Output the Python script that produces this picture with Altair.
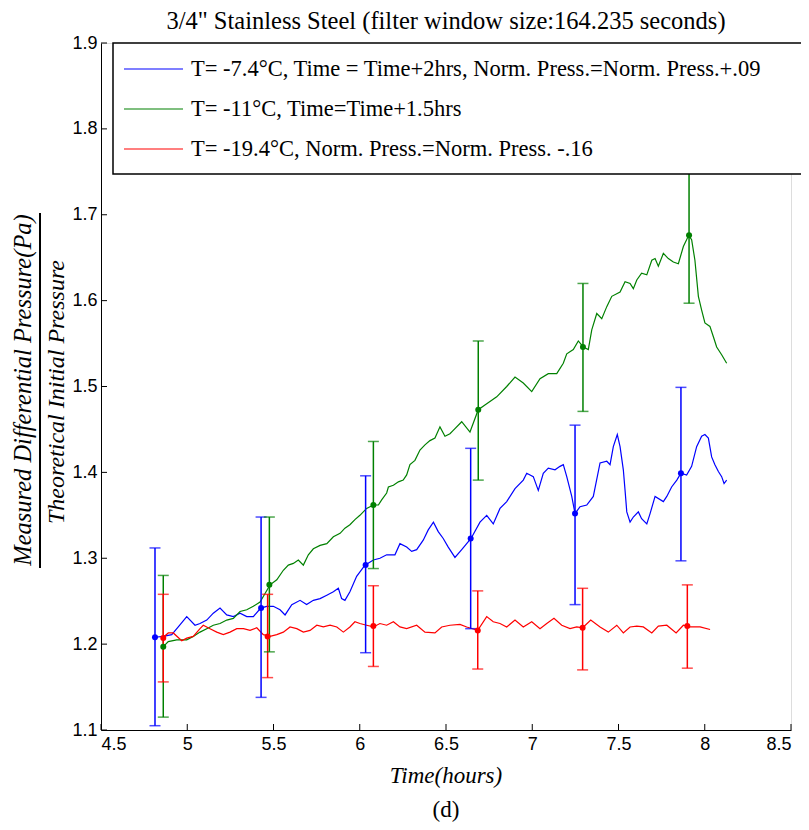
import altair as alt
import pandas as pd

# ---------------- data ----------------
blue_t = [4.813, 4.861, 4.910, 4.948, 4.997, 5.045, 5.074, 5.113, 5.151, 5.190,
          5.229, 5.267, 5.306, 5.345, 5.383, 5.426, 5.461, 5.499, 5.538, 5.567,
          5.606, 5.654, 5.692, 5.731, 5.770, 5.809, 5.847, 5.876, 5.895, 5.914,
          5.943, 5.982, 6.030, 6.079, 6.117, 6.156, 6.204,
          6.233, 6.272, 6.301, 6.330, 6.368, 6.397, 6.427, 6.455, 6.484, 6.513,
          6.552, 6.591, 6.645, 6.697, 6.736, 6.774, 6.813, 6.852, 6.900, 6.948,
          6.968, 7.006, 7.035, 7.064, 7.093, 7.132, 7.161, 7.180, 7.200, 7.229,
          7.248, 7.277, 7.316, 7.354, 7.393, 7.432, 7.451, 7.470, 7.493, 7.509,
          7.528, 7.538, 7.548, 7.567, 7.586, 7.615, 7.634, 7.664, 7.683, 7.712,
          7.760, 7.780, 7.808, 7.838, 7.862, 7.895, 7.924, 7.953, 7.982, 8.001,
          8.021, 8.040, 8.059, 8.079, 8.098, 8.112, 8.127]
blue_v = [1.208, 1.209, 1.211, 1.220, 1.232, 1.222, 1.224, 1.228, 1.236, 1.242,
          1.234, 1.232, 1.236, 1.232, 1.232, 1.242, 1.244, 1.244, 1.240, 1.234,
          1.246, 1.251, 1.246, 1.251, 1.253, 1.257, 1.261, 1.265, 1.253, 1.251,
          1.261, 1.279, 1.292, 1.298, 1.300, 1.304, 1.304,
          1.317, 1.313, 1.308, 1.310, 1.321, 1.333, 1.342, 1.331, 1.323, 1.313,
          1.301, 1.310, 1.323, 1.342, 1.350, 1.340, 1.358, 1.366, 1.381, 1.391,
          1.399, 1.395, 1.379, 1.399, 1.405, 1.403, 1.407, 1.409, 1.395, 1.372,
          1.352, 1.360, 1.362, 1.372, 1.411, 1.413, 1.409, 1.430, 1.444, 1.430,
          1.403, 1.379, 1.354, 1.342, 1.348, 1.354, 1.346, 1.340, 1.352, 1.372,
          1.366, 1.372, 1.383, 1.391, 1.399, 1.397, 1.407, 1.430, 1.442, 1.444,
          1.440, 1.418, 1.409, 1.401, 1.395, 1.387, 1.391]

green_t = [4.861, 4.890, 4.939, 4.997, 5.035, 5.074, 5.113, 5.151, 5.190, 5.229,
           5.267, 5.306, 5.345, 5.383, 5.422, 5.451, 5.480, 5.519, 5.557, 5.586,
           5.615, 5.644, 5.673, 5.702, 5.731, 5.770, 5.809, 5.847, 5.886, 5.914,
           5.943, 5.972, 6.001, 6.040, 6.079,
           6.108, 6.127, 6.156, 6.166, 6.195, 6.224, 6.252, 6.272, 6.291, 6.320,
           6.349, 6.378, 6.407, 6.436, 6.465, 6.494, 6.523,
           6.542, 6.591, 6.639, 6.687, 6.736, 6.794, 6.852, 6.900, 6.948, 6.997,
           7.045, 7.093, 7.142, 7.180,
           7.200, 7.238, 7.267, 7.296, 7.325, 7.345, 7.374, 7.403, 7.432, 7.461,
           7.509, 7.538, 7.567, 7.586, 7.606, 7.634, 7.664, 7.693, 7.712, 7.731,
           7.760, 7.789, 7.818, 7.847, 7.876, 7.907, 7.924, 7.943, 7.963, 7.982,
           8.001, 8.030, 8.050, 8.069, 8.098, 8.127]
green_v = [1.197, 1.203, 1.205, 1.205, 1.209, 1.214, 1.218, 1.222, 1.224, 1.228,
           1.230, 1.238, 1.240, 1.244, 1.249, 1.259, 1.269, 1.275, 1.286, 1.292,
           1.294, 1.298, 1.292, 1.304, 1.311, 1.315, 1.317, 1.325, 1.329, 1.335,
           1.339, 1.345, 1.350, 1.358, 1.362,
           1.362, 1.368, 1.376, 1.383, 1.385, 1.389, 1.391, 1.397, 1.409, 1.414,
           1.426, 1.432, 1.437, 1.440, 1.453, 1.442, 1.445,
           1.449, 1.459, 1.447, 1.473, 1.480, 1.488, 1.500, 1.511, 1.504, 1.494,
           1.509, 1.515, 1.515, 1.527,
           1.538, 1.543, 1.553, 1.546, 1.543, 1.566, 1.585, 1.579, 1.593, 1.605,
           1.610, 1.622, 1.620, 1.614, 1.624, 1.632, 1.630, 1.647, 1.649, 1.640,
           1.655, 1.649, 1.645, 1.643, 1.663, 1.676, 1.671, 1.647, 1.605, 1.589,
           1.574, 1.570, 1.558, 1.546, 1.537, 1.527]

red_t = [4.861, 4.890, 4.919, 4.968, 4.997, 5.035, 5.074, 5.093, 5.132, 5.171,
         5.209, 5.248, 5.287, 5.326, 5.364, 5.403, 5.441, 5.480, 5.519, 5.557,
         5.596, 5.635, 5.673, 5.712, 5.751, 5.789, 5.828, 5.867, 5.905, 5.943,
         5.972, 6.001, 6.040, 6.079, 6.117, 6.156, 6.195,
         6.233, 6.272, 6.330, 6.378, 6.436, 6.475, 6.523, 6.581, 6.620, 6.684,
         6.736, 6.774, 6.813, 6.852, 6.900, 6.948, 6.997, 7.045, 7.084, 7.126,
         7.171, 7.219, 7.258, 7.292, 7.339, 7.393, 7.441, 7.490, 7.528, 7.567,
         7.606, 7.644, 7.693, 7.731, 7.780, 7.834, 7.876, 7.915, 7.973, 8.031]
red_v = [1.208, 1.213, 1.213, 1.204, 1.207, 1.209, 1.218, 1.222, 1.218, 1.214,
         1.211, 1.214, 1.218, 1.218, 1.216, 1.219, 1.211, 1.209, 1.211, 1.214,
         1.220, 1.218, 1.214, 1.216, 1.222, 1.220, 1.222, 1.220, 1.214, 1.220,
         1.226, 1.224, 1.222, 1.220, 1.224, 1.222, 1.226,
         1.220, 1.218, 1.222, 1.214, 1.213, 1.220, 1.222, 1.223, 1.220, 1.216,
         1.232, 1.226, 1.224, 1.220, 1.228, 1.220, 1.226, 1.218, 1.224, 1.230,
         1.222, 1.218, 1.220, 1.219, 1.228, 1.220, 1.214, 1.222, 1.213, 1.220,
         1.221, 1.220, 1.213, 1.221, 1.222, 1.213, 1.222, 1.220, 1.220, 1.217]

# error bars: time, centre, lower, upper
blue_err_t = [4.813, 5.428, 6.034, 6.643, 7.248, 7.862]
blue_err_mid = [1.208, 1.242, 1.292, 1.323, 1.352, 1.399]
blue_err_lo = [1.105, 1.138, 1.190, 1.218, 1.246, 1.297]
blue_err_hi = [1.312, 1.348, 1.396, 1.428, 1.455, 1.499]

green_err_t = [4.861, 5.476, 6.079, 6.687, 7.294, 7.909]
green_err_mid = [1.197, 1.269, 1.362, 1.473, 1.546, 1.676]
green_err_lo = [1.115, 1.191, 1.288, 1.391, 1.471, 1.597]
green_err_hi = [1.280, 1.348, 1.436, 1.553, 1.620, 1.757]

red_err_t = [4.861, 5.466, 6.079, 6.684, 7.292, 7.899]
red_err_mid = [1.207, 1.209, 1.221, 1.216, 1.219, 1.221]
red_err_lo = [1.156, 1.161, 1.174, 1.171, 1.170, 1.172]
red_err_hi = [1.258, 1.258, 1.268, 1.262, 1.265, 1.269]

series_names = ["blue", "green", "red"]
series_colors = ["#0000ff", "#008000", "#ff0000"]
legend_labels = [
    "T= -7.4°C, Time = Time+2hrs, Norm.  Press.=Norm.  Press.+.09",
    "T= -11°C, Time=Time+1.5hrs",
    "T= -19.4°C, Norm.  Press.=Norm.  Press. -.16",
]
x_ticks = [4.5, 5, 5.5, 6, 6.5, 7, 7.5, 8, 8.5]
y_ticks = [1.1, 1.2, 1.3, 1.4, 1.5, 1.6, 1.7, 1.8, 1.9]
title_text = '3/4" Stainless Steel (filter window size:164.235 seconds)'
y_num = "Measured Differential Pressure(Pa)"
y_den = "Theoretical Initial Pressure"
x_title = "Time(hours)"
panel_tag = "(d)"

# ---------------- tables ----------------
rows = []
for name, ts, vs in [("blue", blue_t, blue_v), ("green", green_t, green_v), ("red", red_t, red_v)]:
    for t, v in zip(ts, vs):
        rows.append({"series": name, "t": t, "v": v})
df_lines = pd.DataFrame(rows)

erows = []
for name, ts, ms, los, his in [
    ("blue", blue_err_t, blue_err_mid, blue_err_lo, blue_err_hi),
    ("green", green_err_t, green_err_mid, green_err_lo, green_err_hi),
    ("red", red_err_t, red_err_mid, red_err_lo, red_err_hi),
]:
    for t, m, lo, hi in zip(ts, ms, los, his):
        erows.append({"series": name, "t": t, "mid": m, "lo": lo, "hi": hi})
df_err = pd.DataFrame(erows)

W, H = 690, 687
SERIF = "Liberation Serif"
xscale = alt.Scale(domain=[4.5, 8.5], nice=False, zero=False)
yscale = alt.Scale(domain=[1.1, 1.9], nice=False, zero=False)
color = alt.Color("series:N", scale=alt.Scale(domain=series_names, range=series_colors), legend=None)

x_axis = alt.Axis(values=x_ticks, format="~g", ticks=False, grid=False, domainColor="black",
                  domainWidth=1, labelFont="Liberation Sans", labelFontSize=18,
                  labelColor="black", labelPadding=5, title=None)
y_axis = alt.Axis(values=y_ticks, format=".1f", ticks=False, grid=False, domainColor="black",
                  domainWidth=1, labelFont="Liberation Sans", labelFontSize=18,
                  labelColor="black", labelPadding=4, title=None)


def X(field):
    return alt.X(f"{field}:Q", scale=xscale, axis=x_axis, title=None)


def Y(field):
    return alt.Y(f"{field}:Q", scale=yscale, axis=y_axis, title=None)


lines = alt.Chart(df_lines).mark_line(strokeWidth=1.2).encode(
    x=X("t"), y=Y("v"), color=color, order="t:Q")

err_rules = alt.Chart(df_err).mark_rule(strokeWidth=1.5).encode(
    x=X("t"), y=Y("lo"), y2="hi:Q", color=color)
caps_lo = alt.Chart(df_err).mark_tick(orient="horizontal", size=11, thickness=1.5).encode(
    x=X("t"), y=Y("lo"), color=color)
caps_hi = alt.Chart(df_err).mark_tick(orient="horizontal", size=11, thickness=1.5).encode(
    x=X("t"), y=Y("hi"), color=color)
pts = alt.Chart(df_err).mark_circle(size=36, opacity=1).encode(
    x=X("t"), y=Y("mid"), color=color)

# inward ticks (MATLAB style)
xt = alt.Chart(pd.DataFrame({"t": x_ticks})).mark_rule(color="black", strokeWidth=1).encode(
    x=X("t"), y=alt.value(H), y2=alt.value(H - 6))
yt = alt.Chart(pd.DataFrame({"v": y_ticks})).mark_rule(color="black", strokeWidth=1).encode(
    y=Y("v"), x=alt.value(0), x2=alt.value(6))

one = alt.Data(values=[{"k": 1}])

legend_box = alt.Chart(one).mark_rect(fill="white", stroke="black", strokeWidth=1.5).encode(
    x=alt.value(12), x2=alt.value(800), y=alt.value(0), y2=alt.value(131))

legend_layers = []
for i, (lab, col) in enumerate(zip(legend_labels, series_colors)):
    yy = 26 + 40 * i
    legend_layers.append(alt.Chart(one).mark_rule(color=col, strokeWidth=1.2).encode(
        x=alt.value(23), x2=alt.value(82), y=alt.value(yy)))
    legend_layers.append(alt.Chart(one).mark_text(
        align="left", baseline="middle", font=SERIF, fontSize=22.5, color="black").encode(
        x=alt.value(90), y=alt.value(yy), text=alt.value(lab)))

title_mark = alt.Chart(one).mark_text(
    align="center", baseline="middle", font=SERIF, fontSize=24.5, color="black").encode(
    x=alt.value(W / 2), y=alt.value(-21), text=alt.value(title_text))

num_mark = alt.Chart(one).mark_text(
    align="center", baseline="middle", angle=270, font=SERIF, fontStyle="italic",
    fontSize=24.5, color="black").encode(x=alt.value(-77), y=alt.value(347), text=alt.value(y_num))
bar_mark = alt.Chart(one).mark_rule(color="black", strokeWidth=2).encode(
    x=alt.value(-61), y=alt.value(170), y2=alt.value(525))
den_mark = alt.Chart(one).mark_text(
    align="center", baseline="middle", angle=270, font=SERIF, fontStyle="italic",
    fontSize=24, color="black").encode(x=alt.value(-44), y=alt.value(349), text=alt.value(y_den))

xtitle_mark = alt.Chart(one).mark_text(
    align="center", baseline="middle", font=SERIF, fontStyle="italic",
    fontSize=23, color="black").encode(x=alt.value(W / 2), y=alt.value(733), text=alt.value(x_title))
tag_mark = alt.Chart(one).mark_text(
    align="center", baseline="middle", font=SERIF, fontSize=23, color="black").encode(
    x=alt.value(W / 2), y=alt.value(767), text=alt.value(panel_tag))

chart = alt.layer(
    lines, err_rules, caps_lo, caps_hi, pts, xt, yt,
    legend_box, *legend_layers,
    title_mark, num_mark, bar_mark, den_mark, xtitle_mark, tag_mark,
).properties(
    width=W, height=H,
    autosize=alt.AutoSizeParams(type="none"),
    padding={"left": 93, "top": 35, "right": 10, "bottom": 92},
).configure_view(stroke=None).configure(background="white")

chart.save("out.html", embed_options={"renderer": "svg", "actions": False})
